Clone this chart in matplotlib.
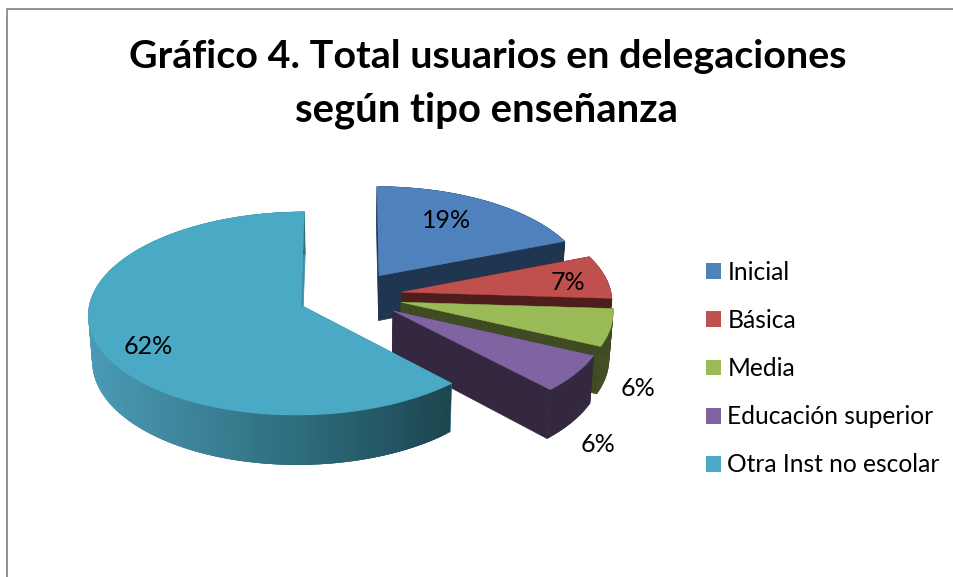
import numpy as np
import matplotlib
matplotlib.use("Agg")
import matplotlib.pyplot as plt
from matplotlib.collections import PolyCollection
from matplotlib.colors import LinearSegmentedColormap
from matplotlib.patches import Patch

categories = ["Inicial", "Básica", "Media", "Educación superior", "Otra Inst no escolar"]
shares = [19, 7, 6, 6, 62]
top_colors = ["#4F81BD", "#C0504D", "#9BBB59", "#8064A2", "#4AA9C4"]
side_colors = ["#1F3550", "#4F1E1C", "#3F4C21", "#332840", "#1D4650"]
label_pos = [(447, 221), (568, 283), (638, 389), (598, 445), (148, 346)]

# projection of the pie plane, in pixels
cx, cy = 350, 296
rx, ry = 210, 99.5
persp = 0.08
explode = 0.25
depth = 45.5
base_shrink = 0.985

plt.rcParams["font.family"] = ["Lato", "DejaVu Sans"]


def project(u, v, lower=False):
    s = 1 / (1 - persp * v)
    x = rx * u * s
    y = cy + ry * v * s
    if lower:
        return cx + x * base_shrink, y + depth * s
    return cx + x, y


def slice_parts(start, end):
    mid = (start + end) / 2
    u0, v0 = explode * np.sin(mid), -explode * np.cos(mid)
    th = np.linspace(start, end, 160)
    u = u0 + np.sin(th)
    v = v0 - np.cos(th)
    return (u0, v0), u, v


fig = plt.figure(figsize=(9.54, 5.77), dpi=100)
ax = fig.add_axes([0, 0, 1, 1])
ax.set_xlim(0, 954)
ax.set_ylim(577, 0)
ax.axis("off")

wall_cmap = LinearSegmentedColormap.from_list(
    "wall", [(0, "#4A9BB5"), (0.35, "#3A7F94"), (0.62, "#2C6A7A"), (1, "#1D4650")])

edges = np.cumsum([0] + shares) / sum(shares) * 2 * np.pi
for i in range(len(shares)):
    (u0, v0), u, v = slice_parts(edges[i], edges[i + 1])
    ax_top, ay_top = project(u0, v0)
    ax_low, ay_low = project(u0, v0, lower=True)
    xt, yt = project(u, v)
    xl, yl = project(u, v, lower=True)

    is_big = shares[i] == max(shares)
    face_col = "#3F8EA8" if is_big else side_colors[i]

    # the two cut faces
    for k in (0, -1):
        ax.fill([ax_top, xt[k], xl[k], ax_low], [ay_top, yt[k], yl[k], ay_low],
                color=face_col, lw=0.5, zorder=i * 3 + 1)

    # outer wall, small overlapping quads so no seams show
    n = len(xt) - 1
    quads = [[(xt[j], yt[j]), (xt[min(j + 3, n)], yt[min(j + 3, n)]),
              (xl[min(j + 3, n)], yl[min(j + 3, n)]), (xl[j], yl[j])] for j in range(n)]
    if is_big:
        pos = np.clip((xt[:-1] - xt.min()) / (xt[0] - xt.min()), 0, 1)
        cols = wall_cmap(pos)
    else:
        cols = [side_colors[i]] * n
    ax.add_collection(PolyCollection(quads, facecolors=cols, edgecolors="none", linewidths=0,
                                     zorder=i * 3 + 2))

    ax.fill(np.r_[ax_top, xt], np.r_[ay_top, yt], color=top_colors[i], lw=0.3, zorder=i * 3 + 3)

for share, (lx, ly) in zip(shares, label_pos):
    ax.text(lx, ly, f"{share}%", fontsize=18, color="black", ha="center", va="center", zorder=30)

ax.text(487.5, 57, "Gráfico 4. Total usuarios en delegaciones", fontsize=28.4, fontweight="bold",
        ha="center", va="center")
ax.text(487, 110, "según tipo enseñanza", fontsize=28.8, fontweight="bold", ha="center", va="center")

handles = [Patch(facecolor=c, edgecolor="none") for c in top_colors]
ax.legend(handles, categories, loc="upper left", bbox_to_anchor=(706, 261), bbox_transform=ax.transData,
          frameon=False, fontsize=17.7, handlelength=0.62, handleheight=0.62, handletextpad=0.25,
          labelspacing=1.02, borderpad=0, borderaxespad=0)

# chart frame
ax.plot([7, 7, 954], [577, 8.5, 8.5], color="#8A8A8A", lw=1.3, zorder=0)

fig.savefig("out.png", dpi=100)
